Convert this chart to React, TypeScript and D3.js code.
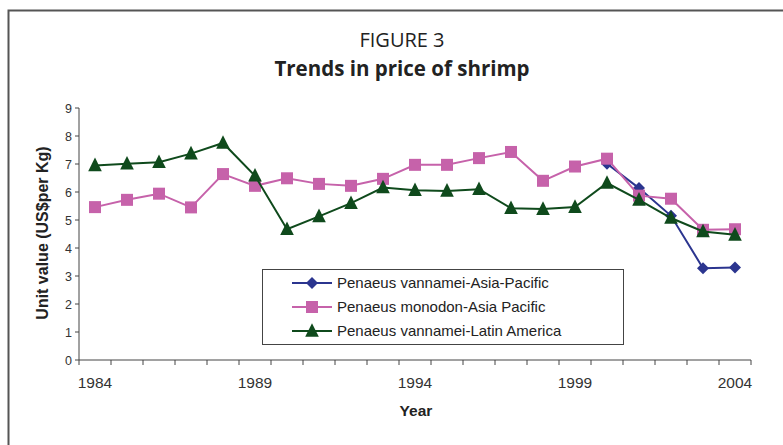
import * as d3 from "d3";

const years = d3.range(1984, 2005);
const yearLabels = [1984, 1989, 1994, 1999, 2004];
const yTicks = [0, 1, 2, 3, 4, 5, 6, 7, 8, 9];

// Penaeus vannamei - Asia-Pacific (only from 2000)
const vannameiAsiaYears = [2000, 2001, 2002, 2003, 2004];
const vannameiAsia = [7.01, 6.14, 5.15, 3.28, 3.3];

// Penaeus monodon - Asia Pacific
const monodonAsia = [
  5.46, 5.72, 5.94, 5.45, 6.64, 6.22, 6.49, 6.29, 6.22, 6.47, 6.97,
  6.97, 7.21, 7.43, 6.4, 6.91, 7.19, 5.87, 5.76, 4.65, 4.67,
];

// Penaeus vannamei - Latin America
const vannameiLatin = [
  6.95, 7.01, 7.06, 7.37, 7.75, 6.58, 4.67, 5.13, 5.6, 6.16, 6.06,
  6.04, 6.1, 5.42, 5.39, 5.46, 6.32, 5.72, 5.07, 4.59, 4.47,
];

const seriesNames = [
  "Penaeus vannamei-Asia-Pacific",
  "Penaeus monodon-Asia Pacific",
  "Penaeus vannamei-Latin America",
];
const colors = ["#2b358f", "#c662aa", "#0f4a1c"];

const W = 783;
const H = 445;
const left = 79;
const right = 751;
const top = 108;
const bottom = 360;

function Marker({ kind, x, y, color }: { kind: number; x: number; y: number; color: string }) {
  if (kind === 0) {
    const r = 6;
    return <path d={`M${x},${y - r}L${x + r},${y}L${x},${y + r}L${x - r},${y}Z`} fill={color} />;
  }
  if (kind === 1) {
    return <rect x={x - 6} y={y - 6} width={12} height={12} fill={color} />;
  }
  const s = 6.8;
  return <path d={`M${x},${y - s - 1}L${x + s},${y + s - 1}L${x - s},${y + s - 1}Z`} fill={color} />;
}

export default function App() {
  const x = d3.scaleBand<number>().domain(years).range([left, right]);
  const cx = (yr: number) => (x(yr) as number) + x.bandwidth() / 2;
  const y = d3.scaleLinear().domain([0, 9]).range([bottom, top]);

  const data = [
    vannameiAsiaYears.map((yr, i) => [yr, vannameiAsia[i]] as [number, number]),
    years.map((yr, i) => [yr, monodonAsia[i]] as [number, number]),
    years.map((yr, i) => [yr, vannameiLatin[i]] as [number, number]),
  ];
  const line = d3
    .line<[number, number]>()
    .x((d) => cx(d[0]))
    .y((d) => y(d[1]));

  const font = "Arial, 'Liberation Sans', sans-serif";
  const boundaries = d3.range(years.length + 1).map((i) => left + i * x.bandwidth());

  return (
    <svg
      width={W}
      height={H}
      style={{ position: "absolute", left: 0, top: 0, background: "#fff" }}
    >
      <rect x={8.5} y={10.5} width={800} height={500} fill="none" stroke="#555" strokeWidth={2} />

      <text x={402} y={47} textAnchor="middle" fontFamily="'Open Sans', sans-serif" fontSize={20} fill="#222">
        FIGURE 3
      </text>
      <text x={402} y={76} textAnchor="middle" fontFamily="'Open Sans', sans-serif" fontWeight="bold" fontSize={20.5} fill="#222">
        Trends in price of shrimp
      </text>

      {/* y axis */}
      <line x1={left} x2={left} y1={top} y2={bottom} stroke="#444" strokeWidth={1} />
      {yTicks.map((t) => (
        <g key={t}>
          <line x1={left - 4} x2={left} y1={y(t)} y2={y(t)} stroke="#444" />
          <text x={left - 7} y={y(t) + 4.5} textAnchor="end" fontFamily={font} fontSize={12.5} fill="#333">
            {t}
          </text>
        </g>
      ))}
      <text
        transform={`translate(48,233) rotate(-90)`}
        textAnchor="middle"
        fontFamily={font}
        fontWeight="bold"
        fontSize={16}
        fill="#222"
      >
        Unit value (US$per Kg)
      </text>

      {/* x axis */}
      <line x1={left} x2={right} y1={bottom} y2={bottom} stroke="#444" strokeWidth={1} />
      {boundaries.map((b, i) => (
        <line key={i} x1={b} x2={b} y1={bottom} y2={bottom + 5} stroke="#444" />
      ))}
      {yearLabels.map((yr) => (
        <text key={yr} x={cx(yr)} y={388} textAnchor="middle" fontFamily={font} fontSize={15.5} fill="#333">
          {yr}
        </text>
      ))}
      <text x={416} y={416} textAnchor="middle" fontFamily={font} fontWeight="bold" fontSize={15.5} fill="#222">
        Year
      </text>

      {/* series */}
      {data.map((d, k) => (
        <g key={k}>
          <path d={line(d) as string} fill="none" stroke={colors[k]} strokeWidth={2} />
          {d.map((p, i) => (
            <Marker key={i} kind={k} x={cx(p[0])} y={y(p[1])} color={colors[k]} />
          ))}
        </g>
      ))}

      {/* legend */}
      <rect x={262.5} y={269.5} width={361} height={75} fill="#fff" stroke="#444" strokeWidth={1} />
      {seriesNames.map((name, k) => {
        const ly = 283 + k * 24;
        return (
          <g key={name}>
            <line x1={292} x2={332} y1={ly} y2={ly} stroke={colors[k]} strokeWidth={2} />
            <Marker kind={k} x={312} y={ly} color={colors[k]} />
            <text x={337} y={ly + 5} fontFamily={font} fontSize={15} fill="#222">
              {name}
            </text>
          </g>
        );
      })}
    </svg>
  );
}
